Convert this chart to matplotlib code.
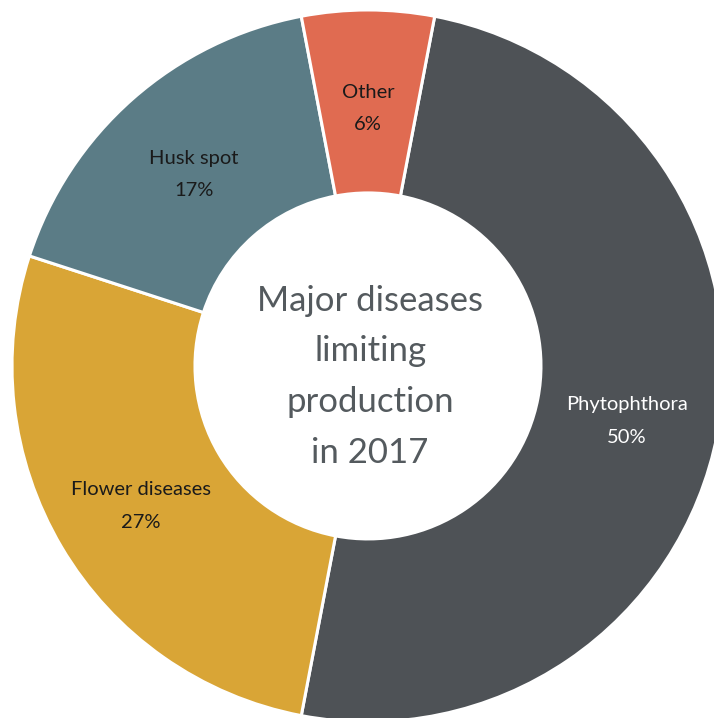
import numpy as np
import matplotlib
matplotlib.use("Agg")
import matplotlib.pyplot as plt

# disease shares, clockwise from the top
diseases = ["Phytophthora", "Flower diseases", "Husk spot", "Other"]
shares = [50, 27, 17, 6]
colors = ["#4e5256", "#d9a536", "#5b7c86", "#e06b51"]
label_colors = ["white", "#1a1a1a", "#1a1a1a", "#1a1a1a"]
center_title = "Major diseases\nlimiting\nproduction\nin 2017"

plt.rcParams["font.family"] = ["Lato", "DejaVu Sans"]

fig = plt.figure(figsize=(7.14, 7.18), dpi=100)
ax = fig.add_axes([0, 0, 1, 1])

wedges, _ = ax.pie(shares, startangle=79.2, counterclock=False, colors=colors,
                   radius=1.0,
                   wedgeprops=dict(width=0.514, edgecolor="white", linewidth=2.2))

# two-line labels in the middle of each ring segment
for w, name, val, tc in zip(wedges, diseases, shares, label_colors):
    mid = np.deg2rad((w.theta1 + w.theta2) / 2)
    x, y = 0.74 * np.cos(mid), 0.74 * np.sin(mid) - 0.017
    ax.text(x, y + 0.046, name, ha="center", va="center", fontsize=14.5, color=tc)
    ax.text(x, y - 0.046, f"{val}%", ha="center", va="center", fontsize=14.5, color=tc)

ax.text(0.006, -0.03, center_title, ha="center", va="center", fontsize=25,
        color="#545a5e", linespacing=1.72)

# ring is cropped slightly on the right and bottom
ax.set_xlim(-1.0337, 0.972)
ax.set_ylim(-0.989, 1.028)
ax.set_aspect("equal")
ax.axis("off")

fig.savefig("out.png", dpi=100)
